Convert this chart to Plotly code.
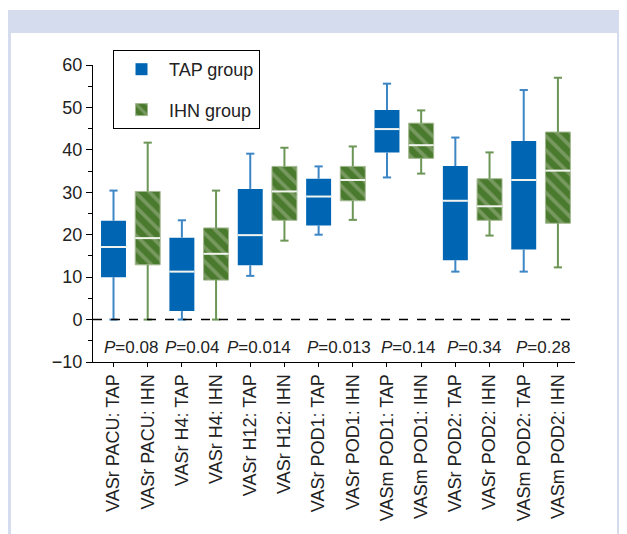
import plotly.graph_objects as go

categories = ["VASr PACU: TAP", "VASr PACU: IHN", "VASr H4: TAP", "VASr H4: IHN",
              "VASr H12: TAP", "VASr H12: IHN", "VASr POD1: TAP", "VASr POD1: IHN",
              "VASm POD1: TAP", "VASm POD1: IHN", "VASr POD2: TAP", "VASr POD2: IHN",
              "VASm POD2: TAP", "VASm POD2: IHN"]

# box statistics per category
lower  = [0.0, 0.0, 0.0, 0.0, 10.3, 18.6, 20.0, 23.5, 33.5, 34.4, 11.3, 19.8, 11.3, 12.3]
q1     = [10.0, 12.9, 2.0, 9.3, 12.8, 23.4, 22.2, 28.0, 39.4, 38.0, 14.0, 23.4, 16.5, 22.7]
median = [17.1, 19.2, 11.3, 15.5, 19.9, 30.2, 29.0, 32.9, 44.9, 41.1, 28.0, 26.7, 32.9, 35.1]
q3     = [23.3, 30.2, 19.3, 21.6, 30.8, 36.1, 33.2, 36.1, 49.4, 46.3, 36.2, 33.2, 42.1, 44.2]
upper  = [30.4, 41.7, 23.4, 30.4, 39.1, 40.5, 36.1, 40.8, 55.6, 49.3, 42.9, 39.4, 54.1, 57.0]

p_labels = ["0.08", "0.04", "0.014", "0.013", "0.14", "0.34", "0.28"]
p_xshift = [0, -7, -8, 3, 4, 2, 2]

groups = ["TAP group", "IHN group"]

BLUE = "#0066B3"
BLUE_W = "#3D86C6"
GREEN = "#4A7A2E"
GREEN_L = "#A3B890"
GREEN_W = "#6C9656"

BOXW = 0.73
CAP = 0.12

fig = go.Figure()

for g, name in enumerate(groups):
    idx = list(range(g, len(categories), 2))
    base = [q1[i] for i in idx]
    h = [q3[i] - q1[i] for i in idx]
    if g == 0:
        marker = dict(color=BLUE, line=dict(color=BLUE, width=0))
        wcol = BLUE_W
    else:
        marker = dict(color=GREEN, line=dict(color=GREEN_L, width=1),
                      pattern=dict(shape="\\", fgcolor=GREEN_L, bgcolor=GREEN,
                                   size=10, solidity=0.38))
        wcol = GREEN_W
    fig.add_trace(go.Bar(x=idx, y=h, base=base, width=BOXW, marker=marker,
                         name=name, legendgroup=name, showlegend=True,
                         hoverinfo="skip"))
    # whiskers and caps
    wx, wy = [], []
    for i in idx:
        wx += [i, i, None, i, i, None,
               i - CAP, i + CAP, None, i - CAP, i + CAP, None]
        wy += [q3[i], upper[i], None, lower[i], q1[i], None,
               upper[i], upper[i], None, lower[i], lower[i], None]
    fig.add_trace(go.Scatter(x=wx, y=wy, mode="lines",
                             line=dict(color=wcol, width=2),
                             showlegend=False, legendgroup=name, hoverinfo="skip"))
    # medians
    mx, my = [], []
    for i in idx:
        mx += [i - BOXW / 2, i + BOXW / 2, None]
        my += [median[i], median[i], None]
    fig.add_trace(go.Scatter(x=mx, y=my, mode="lines",
                             line=dict(color="#F2F4F0", width=2),
                             showlegend=False, legendgroup=name, hoverinfo="skip"))

annotations = []
for k, lab in enumerate(p_labels):
    annotations.append(dict(x=2 * k + 0.5, y=-6.6, xref="x", yref="y",
                            text="<i>P</i>=" + lab, showarrow=False,
                            xshift=p_xshift[k],
                            font=dict(family="Liberation Sans, Arial", size=17, color="#222")))

# the page body adds an 8px offset; positions below are in page pixels
OFF = 8
W, H = 627, 534
L, T = 93 - OFF, 65 - OFF
R = W - (575 - OFF)
B = H - (362 - OFF)
pw, ph = W - L - R, H - T - B

def px(x):
    return (x - OFF - L) / pw

def py(y):
    return (H - B - (y - OFF)) / ph

shapes = [
    dict(type="rect", xref="paper", yref="paper", x0=px(0), x1=px(W + OFF), y0=py(10), y1=py(0),
         fillcolor="white", line=dict(width=0), layer="below"),
    dict(type="rect", xref="paper", yref="paper", x0=px(11), x1=px(617), y0=py(H + OFF), y1=py(33),
         fillcolor="white", line=dict(width=0), layer="below"),
    dict(type="line", xref="paper", yref="y", x0=0, x1=1, y0=0, y1=0,
         line=dict(color="black", width=1.5, dash="dash")),
]

fig.update_layout(
    width=W, height=H,
    margin=dict(l=L, r=R, t=T, b=B, autoexpand=False),
    paper_bgcolor="#D4DCEE",
    plot_bgcolor="white",
    barmode="overlay",
    font=dict(family="Liberation Sans, Arial", size=17, color="#222"),
    shapes=shapes,
    annotations=annotations,
    legend=dict(xref="container", yref="container",
                x=(113 - OFF) / W, y=1 - (50 - OFF) / H, xanchor="left", yanchor="top",
                bgcolor="white", bordercolor="black", borderwidth=1,
                font=dict(size=18), tracegroupgap=14, itemwidth=45,
                traceorder="grouped"),
    xaxis=dict(range=[-0.6, 13.5], tickmode="array",
               tickvals=list(range(len(categories))), ticktext=categories,
               tickangle=-90, showgrid=False, zeroline=False,
               showline=True, linecolor="black", linewidth=1,
               ticks="outside", ticklen=4, tickcolor="black",
               tickfont=dict(size=18), automargin=False),
    yaxis=dict(range=[-10, 60], tickmode="linear", dtick=10, tick0=0,
               showgrid=False, zeroline=False,
               showline=True, linecolor="black", linewidth=1,
               ticks="outside", ticklen=6, tickcolor="black",
               tickfont=dict(size=18), automargin=False,
               minor=dict(ticks="outside", ticklen=4, dtick=5, tickcolor="black", showgrid=False)),
)

fig.write_html("out.html")
